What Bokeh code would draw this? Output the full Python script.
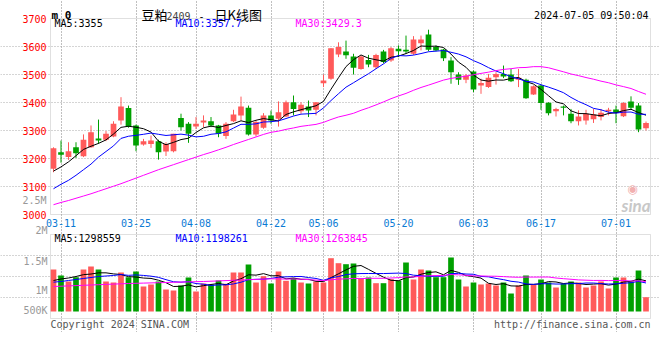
import numpy as np
import pandas as pd
from bokeh.plotting import figure
from bokeh.models import ColumnDataSource, Range1d, FixedTicker, Label, Grid, BoxAnnotation
from bokeh.core.properties import value
from bokeh.embed import file_html
from bokeh.resources import INLINE

# ---------------- data ----------------
opens = [3163, 3222, 3205, 3240, 3208, 3240, 3271, 3267, 3279, 3336,
         3380, 3318, 3250, 3252, 3262, 3225, 3226, 3345, 3324, 3314,
         3329, 3333, 3318, 3280, 3333, 3354, 3381, 3286, 3310, 3354,
         3342, 3350, 3401, 3369, 3386, 3374, 3469, 3485, 3571, 3582,
         3564, 3520, 3552, 3526, 3582, 3550, 3592, 3588, 3574, 3612,
         3643, 3598, 3589, 3550, 3500, 3481, 3511, 3461, 3455, 3490,
         3502, 3500, 3481, 3481, 3429, 3461, 3399, 3369, 3386, 3360,
         3333, 3336, 3340, 3348, 3369, 3375, 3351, 3404, 3389, 3308]
highs = [3240, 3264, 3258, 3258, 3286, 3318, 3339, 3298, 3333, 3419,
         3389, 3321, 3270, 3282, 3267, 3258, 3288, 3360, 3330, 3348,
         3354, 3348, 3320, 3330, 3374, 3421, 3389, 3336, 3362, 3371,
         3404, 3407, 3425, 3401, 3407, 3401, 3500, 3594, 3615, 3621,
         3574, 3568, 3570, 3574, 3588, 3598, 3604, 3639, 3637, 3639,
         3660, 3604, 3592, 3562, 3508, 3502, 3514, 3485, 3502, 3508,
         3532, 3520, 3520, 3485, 3461, 3464, 3401, 3381, 3389, 3377,
         3372, 3374, 3377, 3377, 3381, 3389, 3401, 3422, 3398, 3332]
lows = [3151, 3185, 3195, 3202, 3205, 3238, 3252, 3262, 3276, 3321,
        3310, 3226, 3246, 3238, 3196, 3209, 3222, 3300, 3256, 3305,
        3312, 3312, 3276, 3270, 3330, 3336, 3282, 3279, 3306, 3324,
        3314, 3348, 3354, 3360, 3348, 3354, 3455, 3481, 3562, 3556,
        3500, 3517, 3526, 3520, 3540, 3545, 3562, 3574, 3570, 3586,
        3583, 3583, 3548, 3467, 3463, 3469, 3437, 3431, 3452, 3464,
        3487, 3473, 3455, 3413, 3427, 3374, 3354, 3350, 3354, 3326,
        3318, 3321, 3327, 3336, 3354, 3326, 3348, 3374, 3294, 3300]
closes = [3237, 3213, 3226, 3219, 3267, 3294, 3264, 3288, 3324, 3386,
          3314, 3246, 3262, 3264, 3222, 3252, 3288, 3312, 3288, 3324,
          3336, 3318, 3288, 3324, 3357, 3386, 3286, 3330, 3354, 3336,
          3365, 3401, 3377, 3392, 3371, 3401, 3479, 3594, 3598, 3569,
          3524, 3564, 3536, 3570, 3545, 3594, 3583, 3582, 3625, 3625,
          3588, 3586, 3558, 3508, 3481, 3496, 3446, 3470, 3488, 3502,
          3493, 3476, 3488, 3415, 3458, 3398, 3362, 3377, 3381, 3333,
          3350, 3360, 3357, 3363, 3374, 3363, 3398, 3381, 3304, 3327]
volumes = [1779000, 1525000, 1271000, 1453000, 1779000, 1906000, 1779000, 1271000, 1228000, 1652000,
           1453000, 1694000, 1059000, 1144000, 1271000, 932000, 889000, 1101000, 1440000, 847000,
           1186000, 1144000, 1313000, 1173000, 1652000, 1652000, 1991000, 1228000, 1495000, 1186000,
           1694000, 1300000, 1410000, 1228000, 1186000, 1271000, 1228000, 2257000, 2046000, 2003000,
           2033000, 1398000, 1440000, 1199000, 1199000, 1368000, 1313000, 2075000, 1355000, 1779000,
           1736000, 1453000, 1453000, 2287000, 1355000, 1059000, 1228000, 1144000, 1186000, 1101000,
           1228000, 762000, 1101000, 1525000, 1131000, 1355000, 1228000, 1016000, 1186000, 1271000,
           1228000, 1016000, 1101000, 1271000, 974000, 1440000, 1440000, 1271000, 1736000, 606000]

# moving-average values visible at the start of the chart (before a full window exists)
ma5_head = [3155, 3170, 3188, 3210]
ma10_head = [3092, 3108, 3122, 3140, 3160, 3180, 3205, 3225, 3245]
ma30_head = [3035, 3043, 3050, 3058, 3066, 3074, 3083, 3092, 3101, 3110,
             3120, 3130, 3140, 3150, 3160, 3169, 3178, 3187, 3196, 3205,
             3214, 3222, 3231, 3240, 3250, 3259, 3268, 3277, 3286]
vma5_head = [1313000, 1376000, 1419000, 1482000]
vma10_head = [1241000, 1271000, 1313000, 1355000, 1398000, 1440000, 1482000, 1503000, 1525000]
vma30_head = [1059000, 1071000, 1084000, 1097000, 1110000, 1122000, 1135000, 1148000, 1160000, 1173000,
              1186000, 1194000, 1203000, 1211000, 1220000, 1228000, 1237000, 1245000, 1254000, 1262000,
              1271000, 1283000, 1296000, 1309000, 1321000, 1334000, 1347000, 1359000, 1372000]

tick_idx = [1, 11, 19, 29, 36, 46, 56, 65, 75]
tick_labels = ["03-11", "03-25", "04-08", "04-22", "05-06", "05-20", "06-03", "06-17", "07-01"]
price_ticks = [3000, 3100, 3200, 3300, 3400, 3500, 3600, 3700]
price_ma_text = ["MA5:3355", "MA10:3357.7", "MA30:3429.3"]
vol_ma_text = ["MA5:1298559", "MA10:1198261", "MA30:1263845"]
vol_axis_text = ["2M", "1.5M", "1M", "500K"]
stamp_text = "2024-07-05 09:50:04"

# ---------------- styles / layout constants ----------------
RED = "#ff5a5a"
GREEN = "#00a000"
MA_COLORS = ["#000000", "#0000ff", "#ff00ff"]
MONO = "DejaVu Sans Mono"
CJK = "Noto Sans CJK SC"
GRID = "#aaaaaa"
BORDER = "#999999"

W, H = 660, 332
BAR_PX = 7.5            # pixels per trading day
FIRST_BAR_PX = 53       # x pixel of the first candle
PRICE_TOP_PX = 18       # pixel row of the price panel's top edge
PX_PER_POINT = 0.28     # price pixels per point
VOL_TOP_PX, VOL_BOTTOM_PX = 234, 318   # volume panel edges
VOL_BASE_PX = 311       # pixel row of zero volume
VOL_PER_PX = 42350      # volume per pixel


def moving_average(vals, w, head):
    s = pd.Series(vals, dtype=float).rolling(w).mean().to_numpy()
    s[:len(head)] = head
    return s


n = len(closes)
idx = np.arange(n)
colors = [RED if c >= o else GREEN for o, c in zip(opens, closes)]
src = ColumnDataSource(dict(
    x=idx, high=highs, low=lows,
    top=np.maximum(opens, closes), bottom=np.minimum(opens, closes),
    color=colors, vol=volumes,
    ma5=moving_average(closes, 5, ma5_head),
    ma10=moving_average(closes, 10, ma10_head),
    ma30=moving_average(closes, 30, ma30_head),
    vma5=moving_average(volumes, 5, vma5_head),
    vma10=moving_average(volumes, 10, vma10_head),
    vma30=moving_average(volumes, 30, vma30_head),
))

box_left, box_right = -0.4, n - 0.4
p_lo, p_hi = price_ticks[0], price_ticks[-1]
vol_lo = (VOL_BASE_PX - VOL_BOTTOM_PX) * VOL_PER_PX
vol_hi = (VOL_BASE_PX - VOL_TOP_PX) * VOL_PER_PX

p = figure(width=W, height=H, output_backend="svg", toolbar_location=None, tools="",
           x_axis_location=None, y_axis_location=None, min_border=0,
           outline_line_color=None, background_fill_color="white", border_fill_color="white",
           x_range=Range1d(-FIRST_BAR_PX / BAR_PX, (W - FIRST_BAR_PX) / BAR_PX),
           y_range=Range1d(p_hi - (H - PRICE_TOP_PX) / PX_PER_POINT,
                           p_hi + PRICE_TOP_PX / PX_PER_POINT))
p.extra_y_ranges = {"vol": Range1d((VOL_BASE_PX - H) * VOL_PER_PX, VOL_BASE_PX * VOL_PER_PX)}
p.grid.visible = False


def add_grid(dim, ticks, bounds, yname="default"):
    p.add_layout(Grid(dimension=dim, ticker=FixedTicker(ticks=ticks), bounds=bounds,
                      y_range_name=yname, grid_line_color=GRID, grid_line_dash="1 2",
                      grid_line_width=1))


def txt(text, x, y, color="#000000", size=10, font=MONO, align="left",
        baseline="middle", style="normal"):
    p.add_layout(Label(x=x, y=y, x_units="canvas", y_units="canvas", text=text,
                       text_color=color, text_font=font, text_font_size=f"{size}px",
                       text_align=align, text_baseline=baseline, text_font_style=style))


# ---------------- price panel ----------------
add_grid(0, tick_idx, (p_lo, p_hi))
add_grid(1, price_ticks[1:-1], (box_left, box_right))
p.segment(x0="x", y0="low", x1="x", y1="high", line_color="color", line_width=1, source=src)
p.vbar(x="x", top="top", bottom="bottom", width=0.76, fill_color="color", line_color=None, source=src)
for key, col in zip(("ma5", "ma10", "ma30"), MA_COLORS):
    p.line(x="x", y=key, line_color=col, line_width=1, source=src)
p.add_layout(BoxAnnotation(left=box_left, right=box_right, bottom=p_lo, top=p_hi,
                           fill_color=None, fill_alpha=0, line_color=BORDER, line_width=1))

p.text(x=[box_left] * len(price_ticks), y=price_ticks, text=[str(t) for t in price_ticks],
       x_offset=-4, text_align="right", text_baseline="middle", text_color="#ff0000",
       text_font=value(MONO), text_font_size="10px")
p.text(x=tick_idx, y=[p_lo] * len(tick_idx), text=tick_labels, y_offset=8,
       text_align="center", text_baseline="middle", text_color="#0a7ad4",
       text_font=value(MONO), text_font_size="10px")

# ---------------- volume panel ----------------
add_grid(0, tick_idx, (vol_lo, vol_hi), "vol")
add_grid(1, [vol_lo + q * (vol_hi - vol_lo) / 4 for q in (1, 2, 3)], (box_left, box_right), "vol")
p.vbar(x="x", top="vol", bottom=0, width=0.76, fill_color="color", line_color=None,
       source=src, y_range_name="vol")
for key, col in zip(("vma5", "vma10", "vma30"), MA_COLORS):
    p.line(x="x", y=key, line_color=col, line_width=1, source=src, y_range_name="vol")
p.add_layout(BoxAnnotation(left=box_left, right=box_right, bottom=vol_lo, top=vol_hi,
                           y_range_name="vol", fill_color=None, fill_alpha=0,
                           line_color=BORDER, line_width=1))

# ---------------- texts ----------------
txt("m 0", 51, 15, size=11, style="bold", baseline="alphabetic")
txt("豆粕", 141, 14, size=13, font=CJK, baseline="alphabetic")
txt("2409", 166, 15, color="#444444", size=10, baseline="alphabetic")
txt("-", 198, 15, size=10, baseline="alphabetic")
txt("日K线图", 214, 14, size=13, font=CJK, baseline="alphabetic")
txt(stamp_text, 648, 15, size=10, align="right", baseline="alphabetic")
for s, col, x in zip(price_ma_text, MA_COLORS, (54, 175, 295)):
    txt(s, x, 23, color=col)
for s, col, x in zip(vol_ma_text, MA_COLORS, (54, 175, 295)):
    txt(s, x, 238, color=col)
txt("2.5M", 46, 200, color="#999999", align="right")
for s, y in zip(vol_axis_text, (229.5, 260.5, 289.7, 310)):
    txt(s, 47, y, color="#999999", align="right")
txt("◉", 632, 188, color="#f2b0b0", size=12, font="DejaVu Sans", align="center")
txt("sina", 621, 205, color="#c8c8c8", size=17, font="Lato", style="bold italic",
    baseline="alphabetic")
txt("Copyright 2024 SINA.COM", 50, 323.5, color="#555555")
txt("http://finance.sina.com.cn", 650, 323.5, color="#555555", align="right")

open("out.html", "w").write(file_html(p, INLINE))
